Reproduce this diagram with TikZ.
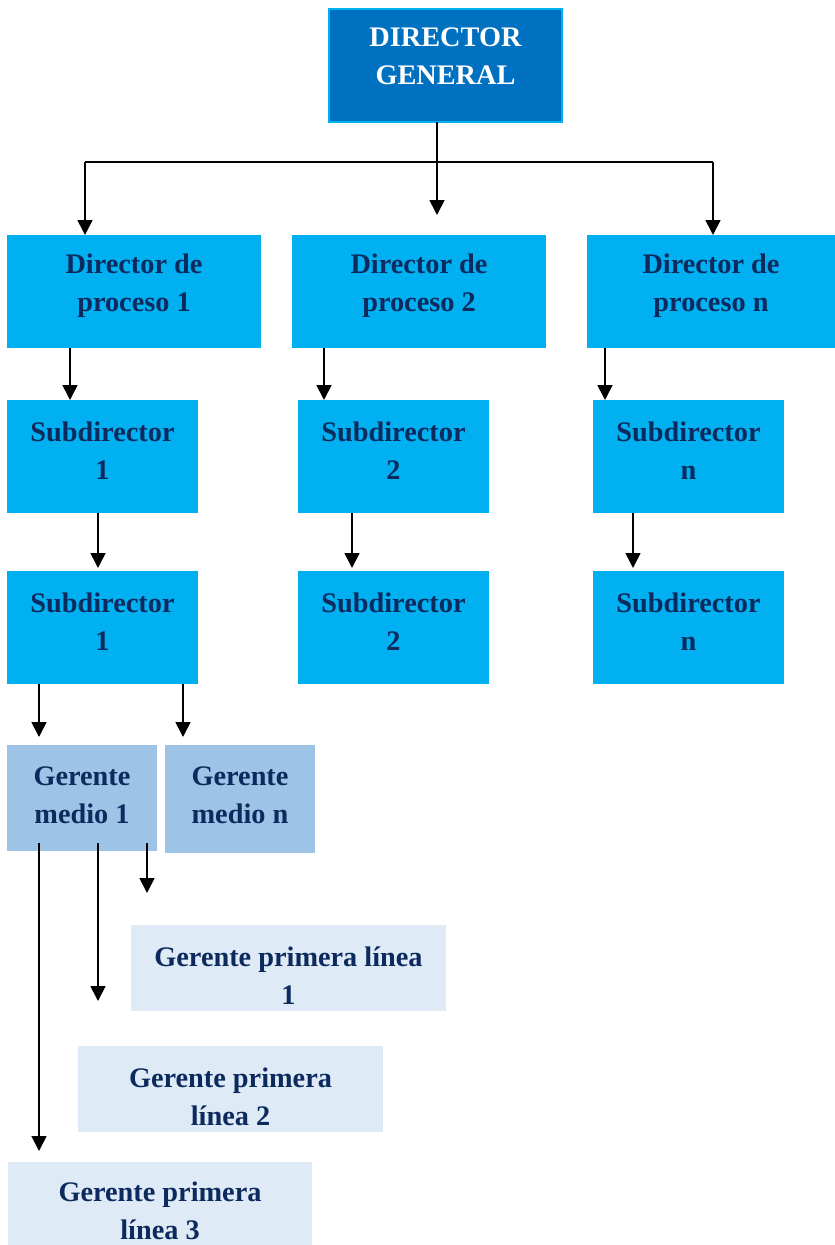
\documentclass[tikz,border=0pt]{standalone}
\usepackage{fontspec}
\setmainfont{Liberation Serif}
\usetikzlibrary{arrows.meta,calc}
\definecolor{dgblue}{HTML}{0070C0}
\definecolor{lblue}{HTML}{00B0F0}
\definecolor{mblue}{HTML}{9DC3E6}
\definecolor{pblue}{HTML}{DEEBF7}
\definecolor{navy}{HTML}{0D2A5E}
\begin{document}
\begin{tikzpicture}[x=1pt,y=-1pt,
  box/.style={anchor=north west, inner sep=0pt, outer sep=0pt},
  txt/.style={font=\fontsize{28.3}{38}\selectfont\bfseries, text=navy, align=center, inner sep=0pt},
  arr/.style={line width=1.7pt, -{Triangle[length=15pt,width=15pt]}},
  ln/.style={line width=1.7pt}]
\useasboundingbox (0,0) rectangle (835,1245);
% boxes
\node[box, fill=dgblue, draw=lblue, line width=1.2pt, minimum width=233pt, minimum height=113pt] (dg) at (329,9) {};
\node[box, fill=lblue, minimum width=254pt, minimum height=113pt] (p1) at (7,235) {};
\node[box, fill=lblue, minimum width=254pt, minimum height=113pt] (p2) at (292,235) {};
\node[box, fill=lblue, minimum width=248pt, minimum height=113pt] (p3) at (587,235) {};
\node[box, fill=lblue, minimum width=191pt, minimum height=113pt] (s1) at (7,400) {};
\node[box, fill=lblue, minimum width=191pt, minimum height=113pt] (s2) at (298,400) {};
\node[box, fill=lblue, minimum width=191pt, minimum height=113pt] (sn) at (593,400) {};
\node[box, fill=lblue, minimum width=191pt, minimum height=113pt] (t1) at (7,571) {};
\node[box, fill=lblue, minimum width=191pt, minimum height=113pt] (t2) at (298,571) {};
\node[box, fill=lblue, minimum width=191pt, minimum height=113pt] (tn) at (593,571) {};
\node[box, fill=mblue, minimum width=150pt, minimum height=106pt] (gm1) at (7,745) {};
\node[box, fill=mblue, minimum width=150pt, minimum height=108pt] (gmn) at (165,745) {};
\node[box, fill=pblue, minimum width=315pt, minimum height=86pt] (g1) at (131,925) {};
\node[box, fill=pblue, minimum width=305pt, minimum height=86pt] (g2) at (78,1046) {};
\node[box, fill=pblue, minimum width=304pt, minimum height=83pt] (g3) at (8,1162) {};
% texts
\node[txt, text=white] (dgt) at ($(dg.north)+(0,47.5)$) {DIRECTOR\\GENERAL};
\node[txt] (p1t) at ($(p1.north)+(0,51)$) {Director de\\proceso 1};
\node[txt] (p2t) at ($(p2.north)+(0,51)$) {Director de\\proceso 2};
\node[txt] (p3t) at ($(p3.north)+(0,51)$) {Director de\\proceso n};
\node[txt] (s1t) at ($(s1.north)+(0,51)$) {Subdirector\\1};
\node[txt] (s2t) at ($(s2.north)+(0,51)$) {Subdirector\\2};
\node[txt] (snt) at ($(sn.north)+(0,51)$) {Subdirector\\n};
\node[txt] (t1t) at ($(t1.north)+(0,50.5)$) {Subdirector\\1};
\node[txt] (t2t) at ($(t2.north)+(0,50.5)$) {Subdirector\\2};
\node[txt] (tnt) at ($(tn.north)+(0,50.5)$) {Subdirector\\n};
\node[txt] (gm1t) at ($(gm1.north)+(0,50.5)$) {Gerente\\medio 1};
\node[txt] (gmnt) at ($(gmn.north)+(0,50.5)$) {Gerente\\medio n};
\node[txt] (g1t) at ($(g1.north)+(0,51)$) {Gerente primera línea\\1};
\node[txt] (g2t) at ($(g2.north)+(0,50.5)$) {Gerente primera\\línea 2};
\node[txt] (g3t) at ($(g3.north)+(0,49)$) {Gerente primera\\línea 3};
% connectors
\coordinate (hl) at (85,162);
\coordinate (hr) at (713,162);
\coordinate (mtip) at (437,215);
\draw[ln] (hl) -- (hr);
\draw[arr] (mtip |- dg.south) -- (mtip);
\draw[arr] (hl) -- (hl |- p1.north);
\draw[arr] (hr) -- (hr |- p3.north);
\draw[arr] ($(p1.south west)+(63,0)$) -- ++(0,52);
\draw[arr] ($(p2.south west)+(32,0)$) -- ++(0,52);
\draw[arr] ($(p3.south west)+(18,0)$) -- ++(0,52);
\draw[arr] ($(s1.south west)+(91,0)$) -- ++(0,55);
\draw[arr] ($(s2.south west)+(54,0)$) -- ++(0,55);
\draw[arr] ($(sn.south west)+(40,0)$) -- ++(0,55);
\draw[arr] ($(t1.south west)+(32,0)$) -- ++(0,53);
\draw[arr] ($(t1.south west)+(176,0)$) -- ++(0,53);
\draw[arr] ($(gm1.south west)+(32,-8)$) -- ++(0,308);
\draw[arr] ($(gm1.south west)+(91,-8)$) -- ++(0,158);
\draw[arr] ($(gm1.south west)+(140,-8)$) -- ++(0,50);
\end{tikzpicture}
\end{document}
